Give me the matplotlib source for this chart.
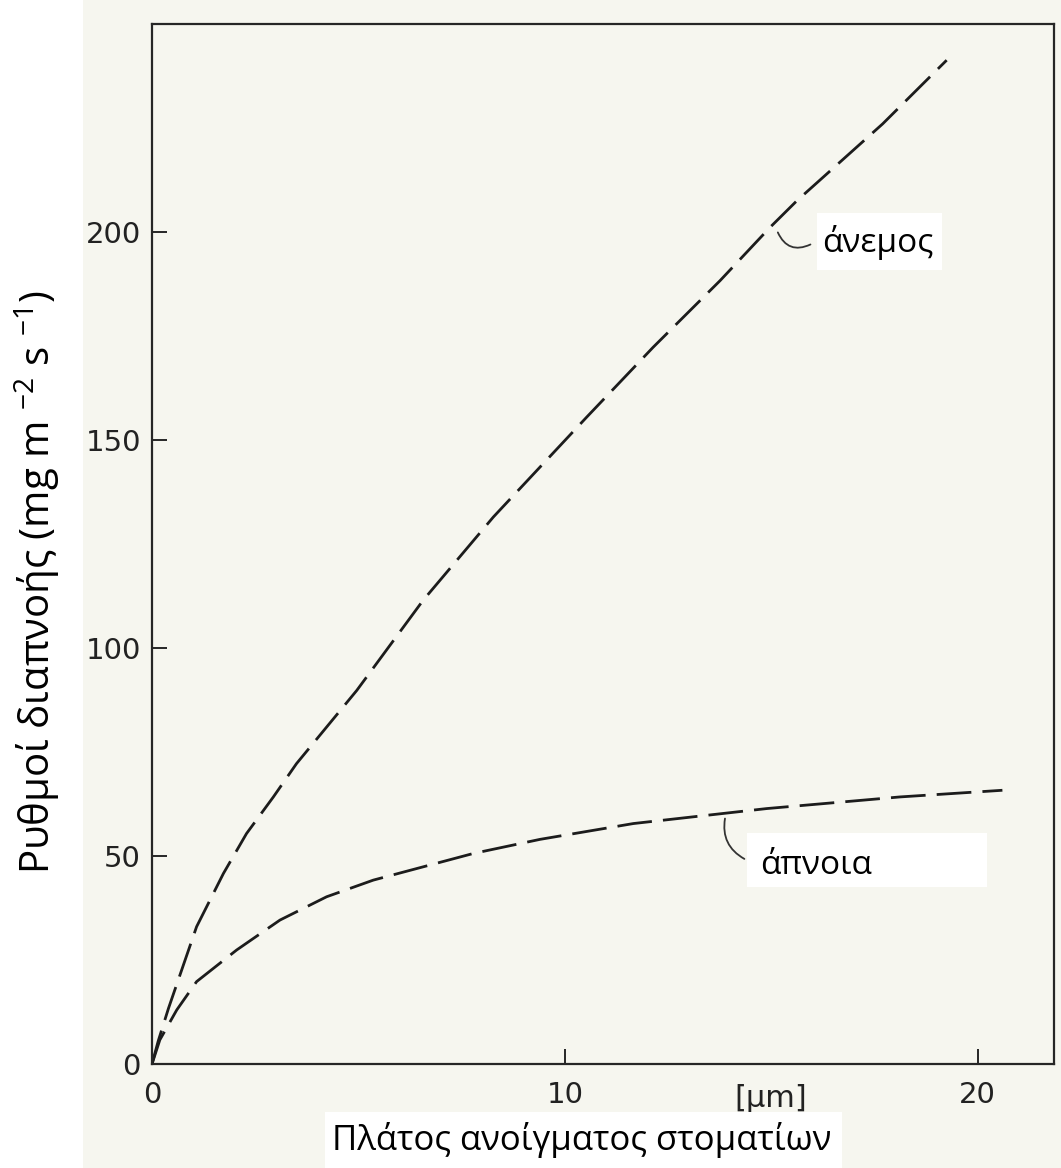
import matplotlib
matplotlib.use("Agg")
import matplotlib.pyplot as plt
from matplotlib.patches import Rectangle

# ---- data ----
wind_x = [0, 0.15, 0.4, 1.08, 1.73, 2.29, 2.94, 3.5, 4.23, 4.96, 5.85, 6.57, 8.27,
          10.53, 12.14, 13.76, 14.97, 15.62, 17.7, 19.25]
wind_y = [0, 5.5, 13.4, 33, 45.8, 55.4, 64.2, 72.2, 81, 89.8, 101.8, 111.5, 131.5,
          155.5, 172.3, 188.3, 201.1, 207.5, 226.0, 241.3]
calm_x = [0, 0.19, 0.6, 1.08, 2.05, 3.1, 4.23, 5.36, 6.57, 7.78, 9.4, 11.66,
          14.89, 18.12, 20.6]
calm_y = [0, 5.8, 13.0, 19.8, 27.4, 34.6, 40.2, 44.2, 47.4, 50.6, 54.0, 57.8,
          61.4, 64.2, 65.8]
x_ticks = [0, 10, 20]
y_ticks = [0, 50, 100, 150, 200]
x_unit = "[μm]"
label_wind = "άνεμος"
label_calm = "άπνοια"
x_label = "Πλάτος ανοίγματος στοματίων"
y_label = "Ρυθμοί διαπνοής (mg m $^{-2}$ s $^{-1}$)"

plt.rcParams['mathtext.fontset'] = 'custom'
plt.rcParams['mathtext.rm'] = 'Open Sans'
plt.rcParams['mathtext.it'] = 'Open Sans'

W, H = 1061, 1168
fig = plt.figure(figsize=(W / 100, H / 100), dpi=100)
fig.patch.set_facecolor('white')

scan_col = '#f6f6ef'
# scanned area background
fig.patches.append(Rectangle((83 / W, 0), (W - 83) / W, 1, transform=fig.transFigure,
                             facecolor=scan_col, edgecolor='none', zorder=-10))

ax = fig.add_axes([152 / W, (H - 1064) / H, (1054 - 152) / W, (1064 - 24) / H])
ax.set_facecolor(scan_col)
ax.set_xlim(0, 21.85)
ax.set_ylim(0, 250)

ink = '#1c1c1c'
lw = 2.0
for xs, ys in [(wind_x, wind_y), (calm_x, calm_y)]:
    ln, = ax.plot(xs, ys, color=ink, lw=lw, solid_capstyle='butt', solid_joinstyle='round')
    ln.set_dashes((12.5, 4.0))
    ln.set_dash_capstyle('butt')

for s in ax.spines.values():
    s.set_linewidth(1.6)
    s.set_color('#262626')

ax.set_xticks(x_ticks)
ax.set_yticks(y_ticks)
ax.set_xticklabels([str(v) for v in x_ticks])
ax.set_yticklabels([str(v) for v in y_ticks])
ax.tick_params(direction='in', length=11, width=1.4, color='#262626',
               labelsize=21, labelcolor='#222222')
ax.tick_params(axis='x', pad=12)
ax.tick_params(axis='y', pad=8)
for t in ax.get_xticklabels() + ax.get_yticklabels():
    t.set_family('DejaVu Sans')

# unit label on x axis, like a tick label
ax.text(15, -0.033, x_unit, transform=ax.get_xaxis_transform(), ha='center', va='center',
        fontsize=22, color='#222222', family='DejaVu Sans')

# leader arcs
ax.annotate('', xy=(15.16, 199.9), xytext=(15.95, 197.0),
            arrowprops=dict(arrowstyle='-', color='#333333', lw=1.3,
                            connectionstyle='arc3,rad=-0.5', shrinkA=0, shrinkB=0))
ax.annotate('', xy=(13.88, 59.0), xytext=(14.35, 49.3),
            arrowprops=dict(arrowstyle='-', color='#333333', lw=1.3,
                            connectionstyle='arc3,rad=-0.35', shrinkA=0, shrinkB=0))

# label boxes (white patches as in the reference)
for (x0, y0, x1, y1) in [(817, 213, 942, 270), (747, 833, 987, 887), (325, 1112, 842, 1168)]:
    fig.patches.append(Rectangle((x0 / W, 1 - y1 / H), (x1 - x0) / W, (y1 - y0) / H,
                                 transform=fig.transFigure, facecolor='white',
                                 edgecolor='none', zorder=5))

fig.text(822 / W, 1 - 242 / H, label_wind, ha='left', va='center', fontsize=24,
         family='Open Sans', color='black', zorder=6)
fig.text(760 / W, 1 - 865 / H, label_calm, ha='left', va='center', fontsize=24,
         family='Open Sans', color='black', zorder=6)
fig.text(582 / W, 1 - 1140 / H, x_label, ha='center', va='center', fontsize=25,
         family='Open Sans', color='black', zorder=6)
fig.text(37 / W, 1 - 582 / H, y_label, ha='center', va='center', rotation=90,
         fontsize=29, family='Open Sans', color='black', zorder=6)

fig.savefig('out.png', dpi=100, facecolor=fig.get_facecolor())
